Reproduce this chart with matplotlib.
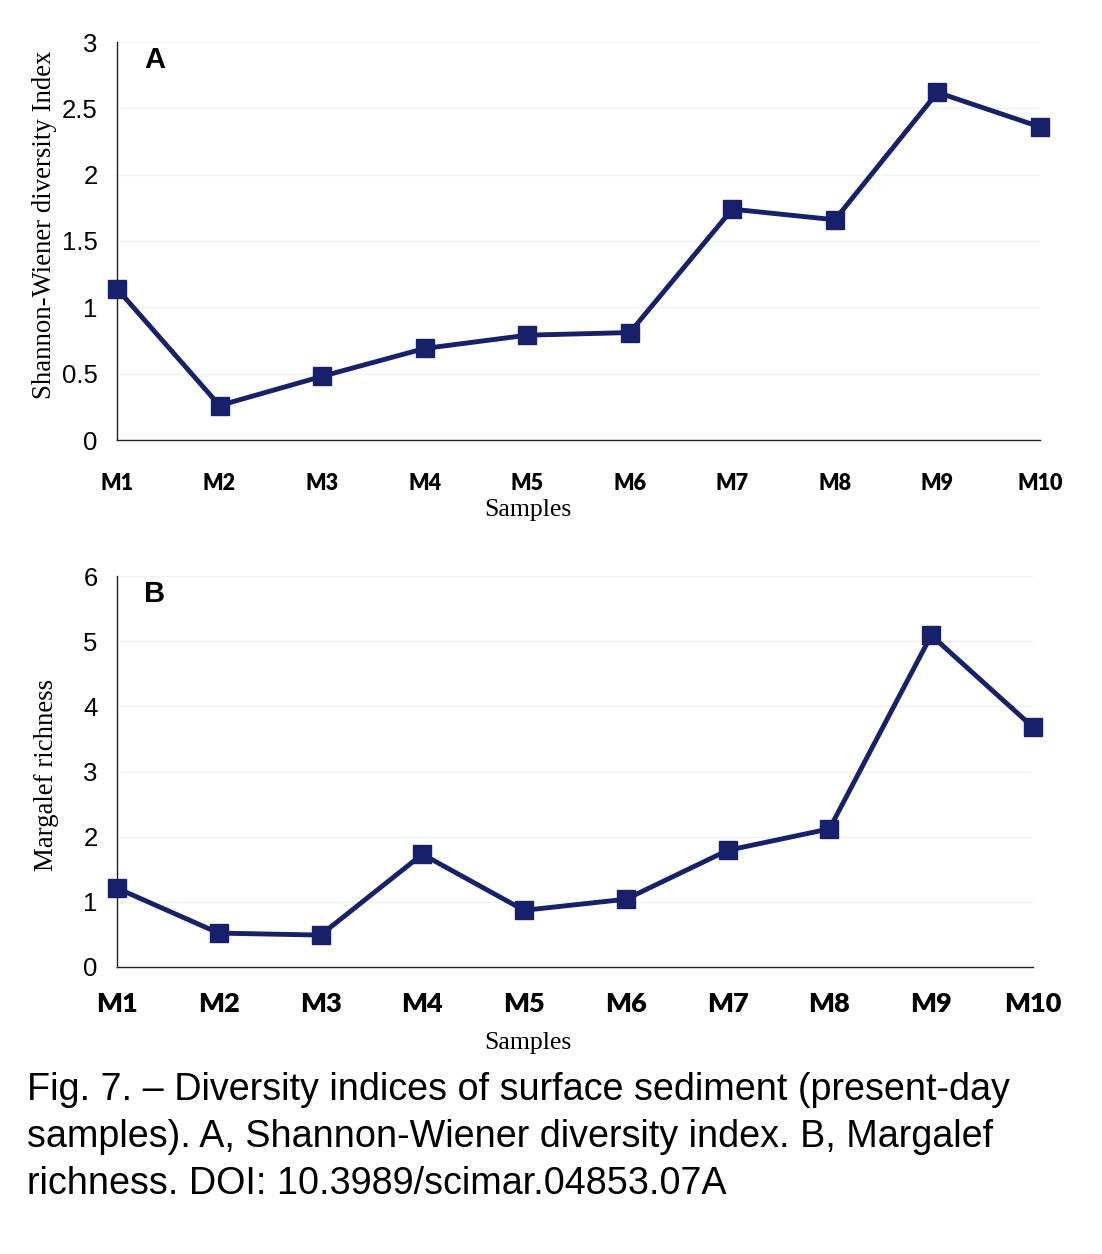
import matplotlib
matplotlib.use("Agg")
import matplotlib.pyplot as plt

samples = ["M1", "M2", "M3", "M4", "M5", "M6", "M7", "M8", "M9", "M10"]
shannon = [1.14, 0.26, 0.48, 0.69, 0.79, 0.81, 1.74, 1.66, 2.62, 2.36]
margalef = [1.21, 0.52, 0.49, 1.73, 0.87, 1.04, 1.79, 2.12, 5.09, 3.68]
yticks_a = [0, 0.5, 1, 1.5, 2, 2.5, 3]
ytick_labels_a = ["0", "0.5", "1", "1.5", "2", "2.5", "3"]
yticks_b = [0, 1, 2, 3, 4, 5, 6]

W, H = 1102, 1254
fig = plt.figure(figsize=(W / 100, H / 100), dpi=100)
line_color = "#16206b"

def make_ax(left, top, right, bottom):
    return fig.add_axes([left / W, 1 - bottom / H, (right - left) / W, (bottom - top) / H])

def style(ax, yticks, ylabels, ymax, ylabel, xfs, xpad, letter):
    x = list(range(len(samples)))
    ax.set_xlim(0, len(samples) - 1)
    ax.set_ylim(0, ymax)
    for s in ["top", "right"]:
        ax.spines[s].set_visible(False)
    for s in ["left", "bottom"]:
        ax.spines[s].set_linewidth(1.0)
        ax.spines[s].set_color("#222222")
    ax.set_yticks(yticks)
    ax.set_yticklabels(ylabels, fontfamily="Liberation Sans", fontsize=18.5)
    ax.set_xticks(x)
    ax.set_xticklabels(samples, fontfamily="Lato", fontweight="heavy", fontsize=xfs)
    ax.tick_params(axis="y", length=0, pad=14)
    ax.tick_params(axis="x", length=0, pad=xpad)
    ax.yaxis.grid(True, color="#eef3f7", linewidth=1.0)
    ax.set_axisbelow(True)
    ax.set_ylabel(ylabel, fontfamily="Liberation Serif", fontsize=19.3)
    ax.set_xlabel("Samples", fontfamily="Liberation Serif", fontsize=18.5)
    ax.xaxis.label.set_verticalalignment("center")
    ax.text(0.03, 0.955, letter, transform=ax.transAxes, fontfamily="Liberation Sans",
            fontweight="bold", fontsize=21, ha="left", va="center")

axA = make_ax(117, 42, 1040, 440)
axA.plot(range(len(samples)), shannon, color=line_color, linewidth=3.5, marker="s",
         markersize=12.5, clip_on=False, zorder=3)
style(axA, yticks_a, ytick_labels_a, 3, "Shannon-Wiener diversity Index", 15.5, 24, "A")
axA.xaxis.set_label_coords(0.445, -0.175)
axA.yaxis.set_label_coords(-0.065, 0.54)

axB = make_ax(117, 576, 1033, 967)
axB.plot(range(len(samples)), margalef, color=line_color, linewidth=3.5, marker="s",
         markersize=12.5, clip_on=False, zorder=3)
style(axB, yticks_b, [str(v) for v in yticks_b], 6, "Margalef richness", 19.5, 18, "B")
axB.xaxis.set_label_coords(0.449, -0.195)
axB.yaxis.set_label_coords(-0.063, 0.49)

caption = ("Fig. 7. \u2013 Diversity indices of surface sediment (present-day\n"
           "samples). A, Shannon-Wiener diversity index. B, Margalef\n"
           "richness. DOI: 10.3989/scimar.04853.07A")
fig.text(27 / W, 1 - 1072 / H, caption, fontfamily="Liberation Sans", fontsize=27.2,
         ha="left", va="top", linespacing=1.40)

fig.savefig("out.png", dpi=100, facecolor="white")
